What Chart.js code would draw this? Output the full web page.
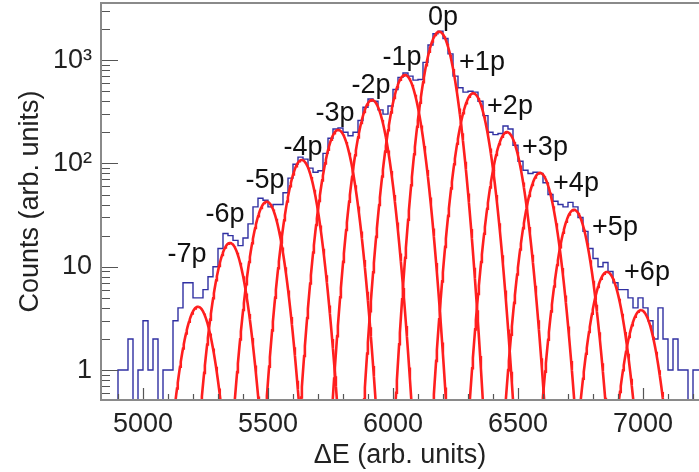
<!DOCTYPE html>
<html>
<head>
<meta charset="utf-8">
<script src="https://cdn.jsdelivr.net/npm/chart.js@4.4.0/dist/chart.umd.min.js"></script>
<style>
  html, body { margin: 0; padding: 0; background: #fff; overflow: hidden; }
  #wrap { width: 699px; height: 472px; }
</style>
</head>
<body>
<div id="wrap"><canvas id="myChart"></canvas></div>
<script>
// histogram, bins of 20 starting at 4840
const binStart = 4840;
const binWidth = 20;
const counts = [
  0, 0, 0, 1, 1, 2, 0, 1, 3, 1, 2, 0, 1, 1, 3, 4, 7, 7, 5, 5,
  6, 8, 10, 15, 21, 20, 18, 16, 19, 26, 38, 46, 44, 38, 40, 40, 52, 72, 98, 115,
  110, 90, 82, 85, 125, 175, 215, 220, 200, 185, 200, 260, 350, 420, 400, 330, 300, 360, 520, 680,
  750, 700, 640, 650, 950, 1400, 1800, 1900, 1620, 1150, 700, 540, 490, 500, 490, 400, 290, 200, 190, 195,
  230, 215, 150, 105, 86, 80, 82, 80, 65, 50, 43, 40, 38, 42, 38, 30, 22, 15, 12, 10,
  11, 9, 7, 6, 6, 5, 4, 5, 4, 3, 2, 4, 2, 1, 2, 1, 1, 0, 1, 1
];

// gaussian fit of each peak
const peakNames   = ['-7p', '-6p', '-5p', '-4p', '-3p', '-2p', '-1p', '0p', '+1p', '+2p', '+3p', '+4p', '+5p', '+6p'];
const peakCenters = [5220, 5348, 5495, 5635, 5781, 5916, 6048, 6185, 6321, 6456, 6588, 6724, 6856, 6992];
const peakHeights = [4.1, 17, 42.6, 108, 211, 411, 718, 1883, 477, 201, 81, 35.6, 8.9, 3.8];
const peakSigmas  = [44, 43, 43, 43, 43, 43, 43, 43, 43, 43, 43, 43, 44, 44];

// where the peak names sit
const labelX = [5176, 5328, 5488, 5640, 5768, 5912, 6036, 6200, 6356, 6468, 6608, 6732, 6888, 7016];
const labelY = [13, 31.7, 67.6, 141, 307, 561, 1048, 2555, 937, 352, 141, 63.3, 23.7, 8.69];

const xTickValues = [5000, 5500, 6000, 6500, 7000];
const yTickValues = [1, 10, 100, 1000];
const yTickLabels = ['1', '10', '10²', '10³'];

const FONT = '"Liberation Sans", Arial, Helvetica, sans-serif';

// histogram as a step line
let histPoints = counts.map((c, i) => ({ x: binStart + i * binWidth, y: c > 0 ? c : 0.1 }));
histPoints.push({ x: binStart + counts.length * binWidth, y: histPoints[histPoints.length - 1].y });

let datasets = [];
peakCenters.forEach((c, i) => {
  const s = peakSigmas[i];
  let pts = [];
  for (let xv = c - 4.5 * s; xv <= c + 4.5 * s; xv += 3) {
    pts.push({ x: xv, y: peakHeights[i] * Math.exp(-((xv - c) * (xv - c)) / (2 * s * s)) });
  }
  datasets.push({
    data: pts,
    borderColor: '#ff1f1f',
    borderWidth: 2.6,
    pointRadius: 0,
    tension: 0,
    order: 1
  });
});
datasets.push({
  data: histPoints,
  borderColor: '#3030a2',
  borderWidth: 1.4,
  pointRadius: 0,
  stepped: 'before',
  order: 2
});

const frameAndLabels = {
  id: 'frameAndLabels',
  afterDatasetsDraw(chart) {
    const { ctx, chartArea: a, scales: { x, y } } = chart;
    ctx.save();

    // inner tick marks
    ctx.strokeStyle = '#555';
    ctx.lineWidth = 1.2;
    ctx.beginPath();
    for (let v = 4900; v <= 7200; v += 100) {
      const px = Math.round(x.getPixelForValue(v)) + 0.5;
      const len = v % 500 === 0 ? 12 : 6;
      ctx.moveTo(px, a.bottom);
      ctx.lineTo(px, a.bottom - len);
    }
    [0.1, 1, 10, 100, 1000].forEach(dec => {
      for (let m = 1; m <= 9; m++) {
        const v = dec * m;
        if (v < y.min || v > y.max) continue;
        const py = Math.round(y.getPixelForValue(v)) + 0.5;
        const len = m === 1 ? 17 : 9;
        ctx.moveTo(a.left, py);
        ctx.lineTo(a.left + len, py);
      }
    });
    ctx.stroke();

    // frame (right side is cut off in the picture)
    ctx.strokeStyle = '#8a8a8a';
    ctx.lineWidth = 2;
    ctx.beginPath();
    ctx.moveTo(a.right, a.top);
    ctx.lineTo(a.left, a.top);
    ctx.lineTo(a.left, a.bottom);
    ctx.lineTo(a.right, a.bottom);
    ctx.stroke();

    // peak names
    ctx.fillStyle = '#111';
    ctx.font = '27px ' + FONT;
    ctx.textAlign = 'center';
    ctx.textBaseline = 'middle';
    peakNames.forEach((n, i) => {
      ctx.fillText(n, x.getPixelForValue(labelX[i]), y.getPixelForValue(labelY[i]));
    });
    ctx.restore();
  }
};

new Chart('myChart', {
  type: 'line',
  data: { datasets: datasets },
  options: {
    responsive: true,
    maintainAspectRatio: false,
    animation: false,
    layout: { padding: { top: 3, left: 0, right: 0, bottom: 0 } },
    plugins: { legend: { display: false }, tooltip: { enabled: false } },
    scales: {
      x: {
        type: 'linear',
        min: 4832,
        max: 7224,
        grid: { display: false, drawTicks: false },
        border: { display: false },
        afterBuildTicks: s => { s.ticks = xTickValues.map(v => ({ value: v })); },
        afterFit: s => { s.height = 72; s.paddingLeft = 0; s.paddingRight = 0; },
        ticks: {
          padding: 8,
          maxRotation: 0,
          color: '#222',
          font: { family: FONT, size: 27 },
          callback: v => String(v)
        },
        title: {
          display: true,
          text: 'ΔE (arb. units)',
          color: '#222',
          font: { family: FONT, size: 27 },
          padding: { top: 0, bottom: 0 }
        }
      },
      y: {
        type: 'logarithmic',
        min: 0.513,
        max: 3570,
        grid: { display: false, drawTicks: false },
        border: { display: false },
        afterBuildTicks: s => { s.ticks = yTickValues.map(v => ({ value: v })); },
        afterFit: s => { s.width = 101; s.paddingTop = 0; s.paddingBottom = 0; },
        ticks: {
          padding: 9,
          color: '#222',
          font: { family: FONT, size: 27 },
          callback: v => {
            const k = yTickValues.indexOf(v);
            return k >= 0 ? yTickLabels[k] : '';
          }
        },
        title: {
          display: true,
          text: 'Counts (arb. units)',
          color: '#222',
          font: { family: FONT, size: 27 },
          padding: { top: 14, bottom: 0 }
        }
      }
    }
  },
  plugins: [frameAndLabels]
});
</script>
</body>
</html>
